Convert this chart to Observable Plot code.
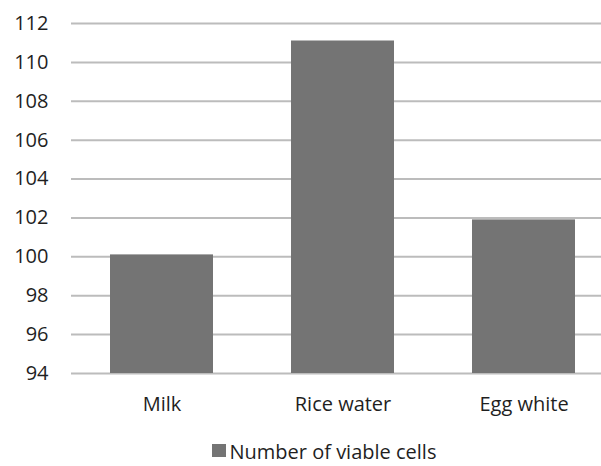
<!DOCTYPE html>
<html>
<head>
<meta charset="utf-8">
<script src="https://cdn.jsdelivr.net/npm/d3@7"></script>
<script src="https://cdn.jsdelivr.net/npm/@observablehq/plot@0.6"></script>
<style>
  html, body { margin: 0; padding: 0; background: #fff; overflow: hidden; }
  #wrap { position: relative; width: 601px; height: 466px; font-family: "Open Sans", sans-serif; }
  #legend { position: absolute; left: 212px; top: 442px; font-size: 20px; line-height: 20px; color: #1f1f1f; white-space: nowrap; }
  #legend .sw { display: inline-block; width: 14px; height: 13px; background: #747474; vertical-align: 2px; margin-right: 3.5px; }
</style>
</head>
<body>
<div id="wrap">
  <div id="chart"></div>
  <div id="legend"></div>
</div>
<script>
const categories = ["Milk", "Rice water", "Egg white"];
const values = [100.1, 111.1, 101.9];
const yTicks = [94, 96, 98, 100, 102, 104, 106, 108, 110, 112];
const seriesName = "Number of viable cells";

const data = categories.map((c, i) => ({cat: c, value: values[i]}));

const chart = Plot.plot({
  width: 601,
  height: 430,
  marginTop: 23,
  marginBottom: 57,
  marginLeft: 71,
  marginRight: -13,
  style: {fontFamily: "Open Sans, sans-serif", fontSize: "20px", color: "#1f1f1f", background: "#fff"},
  x: {domain: categories, paddingInner: 0.43, paddingOuter: 0.215, label: null, tickSize: 0, tickPadding: 23},
  y: {domain: [94, 112], ticks: yTicks, label: null, tickSize: 0, tickPadding: 23, tickFormat: d => String(d)},
  marks: [
    Plot.ruleY(yTicks, {stroke: "#bcbcbc", strokeWidth: 2}),
    Plot.barY(data, {x: "cat", y1: 94, y2: "value", fill: "#747474"}),
    Plot.axisX({tickSize: 0, tickPadding: 23, fontSize: 20, fill: "#1f1f1f"}),
    Plot.axisY({ticks: yTicks, tickSize: 0, tickPadding: 23, fontSize: 20, fill: "#1f1f1f", tickFormat: d => String(d)})
  ]
});
document.getElementById("chart").appendChild(chart);

const lg = document.getElementById("legend");
const sw = document.createElement("span");
sw.className = "sw";
lg.appendChild(sw);
lg.appendChild(document.createTextNode(seriesName));
</script>
</body>
</html>
